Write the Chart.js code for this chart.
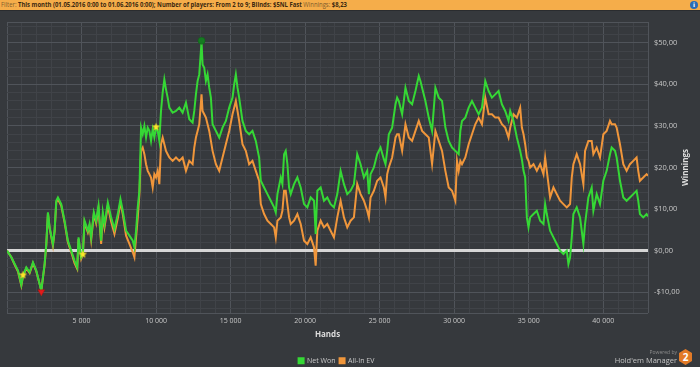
<!DOCTYPE html>
<html>
<head>
<meta charset="utf-8">
<script src="https://cdn.jsdelivr.net/npm/chart.js@4.4.1/dist/chart.umd.min.js"></script>
<style>
  html, body { margin: 0; padding: 0; background: #36393d; }
  #wrap { position: relative; width: 700px; height: 367px; overflow: hidden; font-family: 'Open Sans', sans-serif; }
  #chart { position: absolute; left: 0; top: 0; }
  #filter { position: absolute; left: 0; top: 0; width: 700px; height: 10px; background: #f5ad4a; border-bottom: 1px solid #2a2c2f; }
  #filterText { position: absolute; left: 1px; top: 0; font-size: 7px; line-height: 10px; white-space: nowrap; color: #3a2810; font-weight: bold; transform-origin: 0 50%; }
  #filterText .lbl { font-weight: normal; color: #7d5c2c; }
  #info { position: absolute; right: 2px; top: 1px; width: 8px; height: 8px; border-radius: 50%; background: #2a6cb6; color: #fff; font: bold 6px/8px 'DejaVu Sans', sans-serif; text-align: center; }
  #logo { position: absolute; right: 8px; bottom: 1px; width: 90px; height: 17px; }
  #logo .pw { position: absolute; right: 15px; top: 0; font-size: 5px; color: #8c8c8c; white-space: nowrap; }
  #logo .hm { position: absolute; right: 15px; top: 6px; font-size: 7.5px; color: #c4c4c4; white-space: nowrap; }
  #logo .hex { position: absolute; right: 0; top: 0; width: 13px; height: 16px; background: #e27a27; clip-path: polygon(50% 0, 100% 25%, 100% 75%, 50% 100%, 0 75%, 0 25%); color: #fff; font: bold 10px/16px 'Open Sans', sans-serif; text-align: center; }
</style>
</head>
<body>
<div id="wrap">
  <canvas id="chart" width="700" height="367"></canvas>
  <div id="filter">
    <span id="filterText"><span class="lbl">Filter:</span> This month (01.05.2016 0:00 to 01.06.2016 0:00); Number of players: From 2 to 9; Blinds: $5NL Fast <span class="lbl">Winnings:</span> $8,23</span>
    <div id="info">i</div>
  </div>
  <div id="logo">
    <div class="pw">Powered by</div>
    <div class="hm">Hold'em Manager</div>
    <div class="hex">2</div>
  </div>
</div>
<script>
const HANDS = [0, 292, 515, 738, 962, 1073, 1296, 1519, 1742, 1966, 2189, 2300, 2523, 2635, 2746, 2858, 3081, 3193, 3304, 3416,
  3639, 3862, 4085, 4308, 4531, 4710, 4799, 4977, 5089, 5200, 5424, 5535, 5647, 5825, 5981, 6137, 6316, 6427, 6539, 6762,
  6985, 7208, 7431, 7610, 7766, 7989, 8212, 8435, 8547, 8658, 8770, 8881, 8993, 9104, 9216, 9328, 9439, 9551, 9662, 9774,
  9885, 9997, 10108, 10220, 10331, 10443, 10555, 10666, 10778, 10889, 11112, 11336, 11559, 11782, 12005, 12228, 12451, 12563, 12674, 12786,
  12897, 13050, 13120, 13232, 13343, 13455, 13566, 13678, 13790, 14013, 14236, 14459, 14682, 14905, 15128, 15240, 15351, 15463, 15574, 15797,
  16020, 16244, 16467, 16690, 16913, 17025, 17248, 17471, 17695, 17918, 18029, 18141, 18364, 18475, 18587, 18698, 18810, 18922, 19033, 19256,
  19479, 19702, 19926, 20149, 20372, 20595, 20706, 20818, 21041, 21264, 21487, 21710, 21933, 22157, 22380, 22603, 22826, 23049, 23272, 23495,
  23718, 23942, 24165, 24276, 24388, 24611, 24834, 25057, 25280, 25391, 25503, 25614, 25837, 26061, 26172, 26284, 26507, 26730, 26953, 27176,
  27399, 27622, 27734, 27845, 28068, 28292, 28515, 28738, 28961, 29184, 29407, 29630, 29853, 30076, 30188, 30300, 30411, 30523, 30746, 30969,
  31192, 31415, 31638, 31861, 32084, 32307, 32530, 32753, 32976, 33199, 33422, 33645, 33757, 33980, 34203, 34426, 34538, 34650, 34761, 34873,
  34984, 35096, 35319, 35542, 35765, 35988, 36100, 36211, 36434, 36658, 36881, 37104, 37327, 37550, 37661, 37773, 37885, 37996, 38219, 38442,
  38665, 38777, 39000, 39223, 39335, 39558, 39781, 40004, 40227, 40450, 40562, 40785, 40896, 41120, 41343, 41566, 41789, 42012, 42235, 42346,
  42458, 42681, 42904, 43000];

const NET_WON = [0, -1.6, -3.2, -4.8, -8.2, -6, -4, -5.2, -2.8, -4.8, -8, -9.6, -3.2, 1.6, 9.2, 5.6, 1.6, 4.8, 12, 12.8,
  11.2, 7.2, 2.4, 0, -2.4, -4, 3.2, -1.6, -0.8, 7.2, 4.8, 6.4, 3.2, 9.2, 7.2, 10.8, 2.4, 9.2, 6.4, 11.6,
  8, 5.2, 8.8, 12.4, 9.6, 4.8, 3.6, 2.4, 0.8, 4.8, 10.4, 14.4, 29.6, 28, 30, 27.2, 29.6, 28.8, 26.4, 29.2,
  27.2, 29.6, 28.8, 26.4, 33.6, 38, 41.2, 38.8, 36.8, 34.4, 33.2, 33.6, 34.4, 33.2, 35.6, 31.6, 30.8, 33.6, 37.6, 40.8,
  42.4, 50.2, 44.8, 44, 40.8, 42.4, 39.2, 36.8, 30.4, 28.8, 27.2, 29.6, 31.2, 34.4, 36.8, 40, 42.4, 39.2, 36.8, 31.2,
  28.8, 28, 28.8, 26.4, 22.4, 16.8, 15.2, 13.6, 12, 10.4, 9.2, 13.6, 17.6, 16, 23.2, 24, 20.8, 15.2, 13.6, 16,
  17.6, 15.2, 11.2, 10.4, 12.8, 12, 4, 14.4, 15.2, 12, 12.8, 11.2, 10.4, 13.6, 19.2, 16, 13.6, 14.4, 16, 23.2,
  20.8, 17.6, 19.2, 13.6, 18.4, 20, 23.2, 24.8, 22, 20.8, 24, 28, 29.6, 35.2, 36.8, 36, 32.8, 39.2, 36, 35.2,
  38.4, 42, 40.8, 39.2, 36, 32, 28.8, 39.2, 36.8, 36, 29.6, 26.4, 24.8, 24, 23.6, 23.2, 28.8, 31.2, 32, 34.4,
  36, 34.4, 32.8, 34.4, 40.8, 38.4, 36.8, 37.6, 38.4, 35.2, 33.6, 31.2, 33.6, 31.2, 27.2, 24, 22, 19.2, 17.6, 8,
  5.6, 8, 8.8, 9.6, 7.2, 6.4, 11.2, 8.8, 4.8, 3.2, 1.6, 0, -0.8, 0, -3.2, -1.6, 3.2, 8.8, 10.4, 8,
  1.6, 6.4, 12.8, 15.2, 9.6, 13.6, 11.2, 16.8, 19.2, 23.2, 24.8, 24, 22.4, 16.8, 12.8, 12, 12.8, 13.6, 14.4, 12,
  8.8, 8, 8.8, 8.23];

const ALL_IN_EV = [0, -1.6, -3.4, -5, -8.4, -6.2, -4.2, -5.4, -3, -5, -8, -9.6, -3.4, 1.4, 9, 5.4, 1.2, 4.6, 11.6, 12.4,
  10.8, 6.8, 2, -0.4, -3, -4.4, 2.8, -2, -1, 6.8, 4.4, 6, 2.6, 8.8, 6.6, 10.2, 1.6, 8.4, 5.6, 10.8,
  7, 4, 7.8, 11.6, 8.8, 3.6, 1.6, -0.4, -1.6, 3.2, 8, 13.6, 24, 24.8, 23.2, 20.8, 19.2, 18.4, 17.6, 15.2,
  18.4, 17.6, 19.2, 16, 25.6, 27.2, 25.6, 24, 23.2, 22.4, 21.6, 22.4, 21.6, 22.4, 19.2, 21.6, 20.8, 24.8, 27.2, 28.8,
  30.4, 37.6, 33.6, 32.8, 32, 30.4, 28.8, 26.4, 24, 20.8, 19.2, 22.4, 25.6, 28.8, 32.8, 34.4, 36, 33.6, 31.2, 25.6,
  24, 20.8, 21.6, 19.2, 16.8, 11.2, 8.8, 7.2, 6.4, 5.6, 3.2, 7.2, 8, 9.6, 14.4, 14.4, 11.2, 8, 6.4, 7.2,
  8.8, 6.4, 2.4, 1.6, 3.2, 0.8, -3.6, 4.8, 7.2, 5.6, 6.4, 4.8, 3.2, 8, 12, 8, 5.6, 7.2, 8, 16,
  13.6, 12, 9.6, 8, 12.8, 14.4, 16.8, 17.6, 15.2, 12.8, 18.4, 20, 22.4, 27.2, 28, 28, 24, 30.4, 27.2, 26.4,
  28.8, 31.2, 30, 28.8, 28, 27.2, 20.8, 28.8, 26.4, 24, 19.2, 15.2, 14.4, 12, 21.6, 19.2, 21.6, 20.8, 22.4, 25.6,
  28, 30.4, 32, 30.4, 36.8, 32.8, 32.8, 32, 32, 30.4, 29.6, 27.2, 29.6, 32.8, 32, 34.4, 29.6, 28, 25.6, 22.4,
  21.6, 20, 20.8, 19.2, 20.8, 18.4, 22.4, 19.2, 12.8, 15.2, 13.6, 12, 11.2, 10.4, 10.8, 11.2, 17.6, 20.8, 23.2, 20.8,
  16, 24, 26.4, 26.4, 23.2, 24.8, 22.4, 28, 28.8, 31.2, 30.4, 30.4, 29.6, 25.6, 20.8, 19.2, 20.8, 21.6, 22.4, 19.2,
  16.8, 17.6, 18.4, 18];

// session markers: best/worst points and the stars HEM puts on the graph
const MARKER_HANDS = [1071, 2302, 5087, 9998, 13050];
const MARKER_VALUES = [-5.8, -9.9, -0.8, 29.8, 50.5];
const MARKER_KINDS = ['star', 'low', 'star', 'star', 'high'];

const Y_MIN = -15, Y_MAX = 55, X_MAX = 43000;
// gridlines every $2 between the frame edges, labels on the tens
const Y_GRID = [Y_MIN];
for (let v = -14; v <= 54; v += 2) Y_GRID.push(v);
Y_GRID.push(Y_MAX);

const GRID_MAJOR = '#50545a';
const GRID_MINOR = '#404348';
const TEXT = '#c8c8c8';

function starImage() {
  const c = document.createElement('canvas');
  c.width = 9; c.height = 9;
  const g = c.getContext('2d');
  g.fillStyle = '#ffe628';
  g.beginPath();
  for (let i = 0; i < 10; i++) {
    const r = i % 2 ? 1.9 : 4.4;
    const a = -Math.PI / 2 + i * Math.PI / 5;
    g.lineTo(4.5 + r * Math.cos(a), 4.8 + r * Math.sin(a));
  }
  g.closePath();
  g.fill();
  return c;
}
const STAR = starImage();

const fmtHands = v => String(v).replace(/\B(?=(\d{3})+(?!\d))/g, ' ');
const fmtMoney = v => (v < 0 ? '-$' : '$') + Math.abs(v).toFixed(2).replace('.', ',');

const toPoints = arr => HANDS.map((h, i) => ({ x: h, y: arr[i] }));

const winningsTitle = {
  id: 'winningsTitle',
  afterLayout(chart) {
    // HEM centres its legend a little right of the plot
    chart.legend.left += 9;
    chart.legend.right += 9;
  },
  afterDraw(chart) {
    const { ctx, chartArea } = chart;
    ctx.save();
    ctx.translate(chartArea.right + 38, (chartArea.top + chartArea.bottom) / 2);
    ctx.rotate(-Math.PI / 2);
    ctx.font = 'bold 8px "Open Sans"';
    ctx.fillStyle = '#dcdcdc';
    ctx.textAlign = 'center';
    ctx.textBaseline = 'middle';
    ctx.fillText('Winnings', 0, 0);
    ctx.restore();
  }
};

new Chart(document.getElementById('chart'), {
  type: 'line',
  data: {
    datasets: [
      {
        label: 'markers',
        data: MARKER_HANDS.map((h, i) => ({ x: h, y: MARKER_VALUES[i] })),
        showLine: false,
        order: 0,
        pointStyle: MARKER_KINDS.map(k => k === 'star' ? STAR : k === 'low' ? 'triangle' : 'circle'),
        rotation: MARKER_KINDS.map(k => k === 'low' ? 180 : 0),
        pointRadius: MARKER_KINDS.map(k => k === 'low' ? 4 : 3.5),
        pointBackgroundColor: MARKER_KINDS.map(k => k === 'low' ? '#e11b1b' : '#167a22'),
        pointBorderColor: MARKER_KINDS.map(k => k === 'low' ? '#b01010' : '#106018'),
        pointBorderWidth: 0.5
      },
      {
        label: 'Net Won',
        data: toPoints(NET_WON),
        order: 1,
        borderColor: '#35d835',
        backgroundColor: '#35d835',
        borderWidth: 2,
        pointRadius: 0,
        tension: 0
      },
      {
        label: 'All-In EV',
        data: toPoints(ALL_IN_EV),
        order: 2,
        borderColor: '#f0963b',
        backgroundColor: '#f0963b',
        borderWidth: 2,
        pointRadius: 0,
        tension: 0
      }
    ]
  },
  options: {
    responsive: false,
    animation: false,
    layout: { padding: { top: 22, left: 7, right: 0, bottom: 0 } },
    plugins: {
      tooltip: { enabled: false },
      legend: {
        position: 'bottom',
        fullSize: false,
        maxHeight: 24,
        title: { display: true, text: '', font: { size: 1 }, padding: { top: 9, bottom: 0 } },
        labels: {
          filter: item => item.text !== 'markers',
          boxWidth: 5, boxHeight: 5,
          color: TEXT,
          font: { family: 'Open Sans', size: 7 },
          padding: 4
        }
      }
    },
    scales: {
      x: {
        type: 'linear',
        min: 0, max: X_MAX,
        grid: {
          drawTicks: false,
          color: c => (c.tick && (c.tick.value % 5000 === 0 || c.tick.value === X_MAX)) ? GRID_MAJOR : GRID_MINOR
        },
        border: { display: false },
        ticks: {
          stepSize: 1000,
          autoSkip: false,
          maxRotation: 0,
          padding: 4,
          color: TEXT,
          font: { family: 'Open Sans', size: 7 },
          callback: v => (v > 0 && v % 5000 === 0) ? fmtHands(v) : ''
        },
        title: {
          display: true, text: 'Hands', color: '#dcdcdc',
          font: { family: 'Open Sans', size: 8, weight: 'bold' },
          padding: { top: 0, bottom: 3 }
        },
        afterFit: s => { s.height = 30; }
      },
      y: {
        type: 'linear',
        position: 'right',
        min: Y_MIN, max: Y_MAX,
        afterBuildTicks: s => { s.ticks = Y_GRID.map(v => ({ value: v })); },
        grid: {
          drawTicks: false,
          color: c => {
            if (!c.tick) return GRID_MINOR;
            const v = c.tick.value;
            if (v === 0) return '#d6d6d6';
            if (v === Y_MIN || v === Y_MAX || v % 10 === 0) return GRID_MAJOR;
            return GRID_MINOR;
          },
          lineWidth: c => (c.tick && c.tick.value === 0) ? 3 : 1
        },
        border: { display: false },
        ticks: {
          autoSkip: false,
          padding: 6,
          color: TEXT,
          font: { family: 'Open Sans', size: 7.5 },
          callback: v => v % 10 === 0 ? fmtMoney(v) : ''
        },
        afterFit: s => { s.width = 52; }
      }
    }
  },
  plugins: [winningsTitle]
});

// squeeze the filter line into the width it takes in the HEM header
const ft = document.getElementById('filterText');
ft.style.transform = 'scaleX(' + (346 / ft.getBoundingClientRect().width) + ')';
</script>
</body>
</html>
